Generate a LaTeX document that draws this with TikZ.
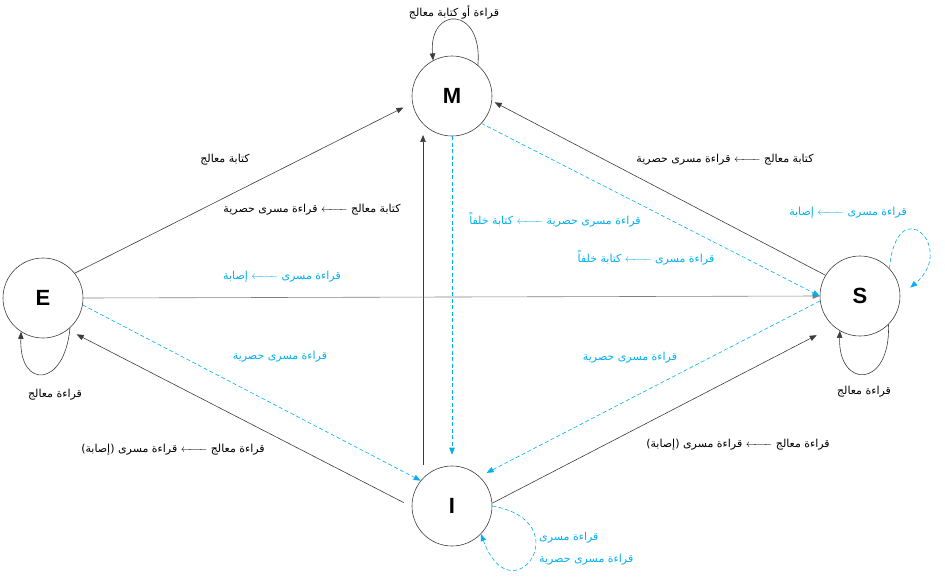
\documentclass[tikz,border=0pt]{standalone}
\usepackage{amsmath}
\usepackage{fontspec}
\setmainfont{Liberation Sans}
\newfontfamily\arabicfont[Script=Arabic]{DejaVu Sans}
\TeXXeTstate=1
\usepackage{tikz}
\usetikzlibrary{arrows.meta, positioning, calc}

\definecolor{busblue}{RGB}{0,176,240}
\definecolor{linegray}{RGB}{60,60,60}

\newcommand{\artxt}[1]{{\arabicfont\beginR #1\endR}}
\newcommand{\lrr}{$\xleftarrow{\hspace{20pt}}$}

\tikzset{
	state/.style={circle, draw=linegray, line width=0.6pt, minimum size=80pt, inner sep=0pt, font=\fontsize{22}{24}\selectfont\bfseries},
	edge/.style={draw=linegray, line width=0.6pt, -{Triangle[length=7pt,width=5.5pt]}},
	busedge/.style={draw=busblue, line width=0.6pt, dash pattern=on 4pt off 2.5pt, -{Triangle[length=7pt,width=5.5pt]}},
	lbl/.style={font=\fontsize{11}{13}\selectfont, text=black, inner sep=1pt},
	buslbl/.style={lbl, text=busblue}
}

\begin{document}
\begin{tikzpicture}[x=1pt, y=-1pt]
			\useasboundingbox (0,0) rectangle (945,584);
			
			\node[state] (M) at (452,96) {M};
			\node[state] (E) at (43,298) {E};
			\node[state] (S) at (860,296) {S};
			\node[state] (I) at (452,506) {I};
			
			% processor side
			\draw[edge, shorten >=10pt] (E.38) to (M.190);
			\draw[edge, shorten <=13pt, shorten >=11pt] (I.136) to (M.224);
			\draw[edge, shorten >=3pt] (S.149) to (M.353);
			\draw[edge, shorten <=9pt, shorten >=10pt] (I.181) to (E.308);
			\draw[edge, shorten >=19pt] (I.4) to (S.229);
			\draw[edge, draw=gray] (E.east) to (S.west);
			
			% bus side
			\draw[busedge] (M.317) to (S.180);
			\draw[busedge, shorten >=11pt] (M.south) to (I.north);
			\draw[busedge] (E.350) to (I.141);
			\draw[busedge, shorten >=8pt] (S.187) to (I.47);
			
			% loops
			\draw[edge] (M.50) .. controls +(85:60pt) and +(95:55pt) .. (M.118);
			\draw[edge] (E.312) .. controls +(265:60pt) and +(268:58pt) .. (E.237);
			\draw[edge] (S.315) .. controls +(272:65pt) and +(268:58pt) .. (S.240);
			\draw[busedge, shorten >=13pt] (S.43) .. controls +(85:80pt) and +(40:75pt) .. (S.0);
			\draw[busedge] (I.east) .. controls +(-10:90pt) and +(-70:90pt) .. (I.316);
			
			% labels
			\node[lbl] (lM) at (454,12) {\artxt{قراءة أو كتابة معالج}};
			\node[lbl] (lEM) at (225,160) {\artxt{كتابة معالج}};
			\node[lbl] (lIM) at (312,210) {\artxt{كتابة معالج \lrr{} قراءة مسرى حصرية}};
			\node[lbl] (lSM) at (725,160) {\artxt{كتابة معالج \lrr{} قراءة مسرى حصرية}};
			\node[buslbl] (lMI) at (555,220) {\artxt{قراءة مسرى حصرية \lrr{} كتابة خلفاً}};
			\node[buslbl] (lMS) at (646,258) {\artxt{قراءة مسرى \lrr{} كتابة خلفاً}};
			\node[buslbl] (lSS) at (848,213) {\artxt{قراءة مسرى \lrr{} إصابة}};
			\node[buslbl] (lES) at (282,277) {\artxt{قراءة مسرى \lrr{} إصابة}};
			\node[buslbl] (lEI) at (280,357) {\artxt{قراءة مسرى حصرية}};
			\node[buslbl] (lSI) at (630,358) {\artxt{قراءة مسرى حصرية}};
			\node[lbl] (lEE) at (55,395) {\artxt{قراءة معالج}};
			\node[lbl] (lSSp) at (864,392) {\artxt{قراءة معالج}};
			\node[lbl] (lIE) at (173,450) {\artxt{قراءة معالج \lrr{} قراءة مسرى (إصابة)}};
			\node[lbl] (lIS) at (738,445) {\artxt{قراءة معالج \lrr{} قراءة مسرى (إصابة)}};
			\node[buslbl, anchor=west] (lII) at (538,538) {\artxt{قراءة مسرى}};
			\node[buslbl, anchor=west] (lIIx) at (538,560) {\artxt{قراءة مسرى حصرية}};
\end{tikzpicture}
\end{document}
